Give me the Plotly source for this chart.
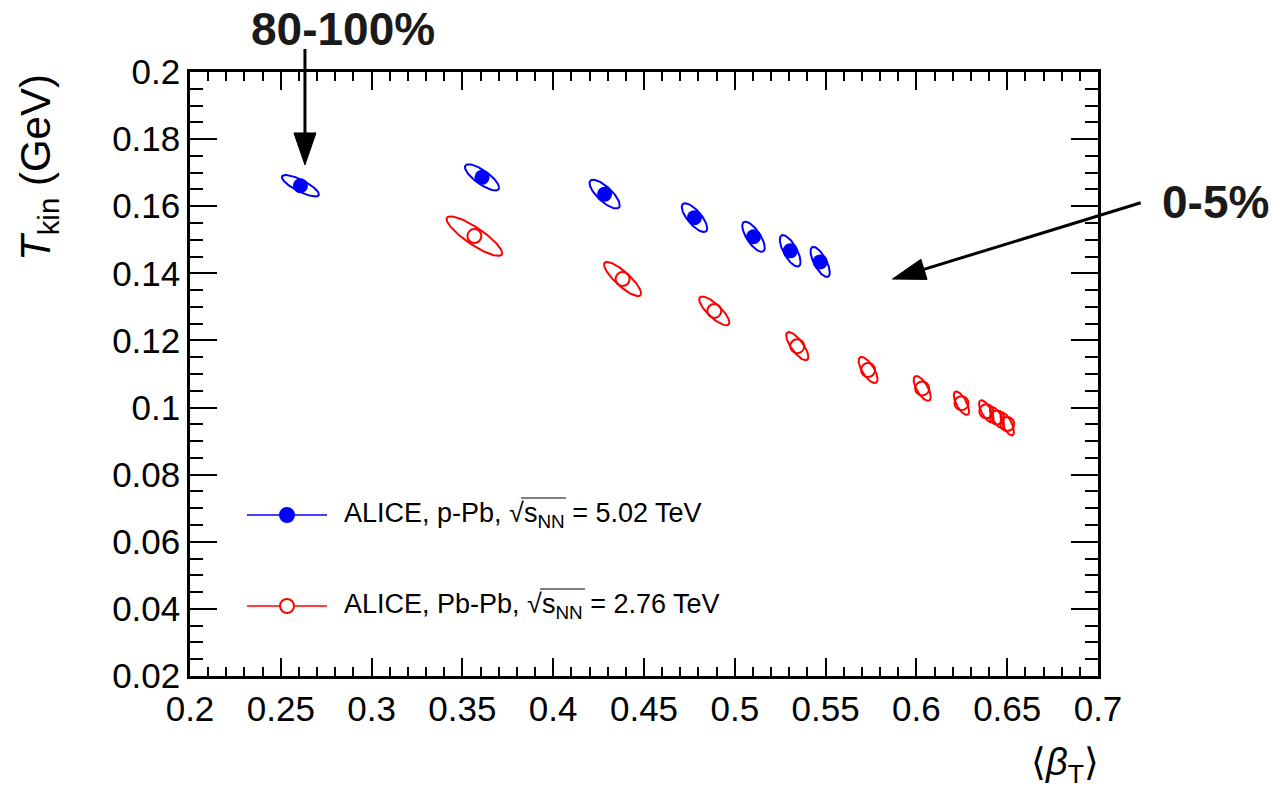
import numpy as np
import plotly.graph_objects as go

# ---------------- data ----------------
# ALICE p-Pb, sqrt(s_NN) = 5.02 TeV  (centrality 80-100% ... 0-5%)
ppb_beta = [0.2608, 0.3608, 0.4283, 0.4778, 0.5103, 0.5305, 0.5470]
ppb_tkin = [0.1661, 0.1686, 0.1636, 0.1566, 0.1509, 0.1467, 0.1434]
ppb_sig_beta = [0.0102, 0.0094, 0.0083, 0.0070, 0.0062, 0.0057, 0.0053]
ppb_sig_tkin = [0.0032, 0.0039, 0.0043, 0.0043, 0.0045, 0.0047, 0.0045]
ppb_rho = [-0.80, -0.78, -0.76, -0.74, -0.72, -0.70, -0.70]

# ALICE Pb-Pb, sqrt(s_NN) = 2.76 TeV
pbpb_beta = [0.3566, 0.4382, 0.4887, 0.5344, 0.5734, 0.6032, 0.6248, 0.6385, 0.6444, 0.6500]
pbpb_tkin = [0.1511, 0.1383, 0.1288, 0.1183, 0.1112, 0.1057, 0.1013, 0.0989, 0.0970, 0.0951]
pbpb_sig_beta = [0.0153, 0.0102, 0.0083, 0.0061, 0.0052, 0.0047, 0.0042, 0.0040, 0.0039, 0.0037]
pbpb_sig_tkin = [0.0059, 0.0051, 0.0043, 0.0042, 0.0039, 0.0037, 0.0035, 0.0033, 0.0032, 0.0034]
pbpb_rho = [-0.86, -0.84, -0.80, -0.76, -0.70, -0.68, -0.68, -0.68, -0.68, -0.68]

x_range = [0.2, 0.7]
y_range = [0.02, 0.2]
x_tickvals = [0.2, 0.25, 0.3, 0.35, 0.4, 0.45, 0.5, 0.55, 0.6, 0.65, 0.7]
x_ticktext = ["0.2", "0.25", "0.3", "0.35", "0.4", "0.45", "0.5", "0.55", "0.6", "0.65", "0.7"]
y_tickvals = [0.02, 0.04, 0.06, 0.08, 0.1, 0.12, 0.14, 0.16, 0.18, 0.2]
y_ticktext = ["0.02", "0.04", "0.06", "0.08", "0.1", "0.12", "0.14", "0.16", "0.18", "0.2"]

legend_ppb = "ALICE, p-Pb, \u221As<sub>NN</sub> = 5.02 TeV"
legend_pbpb = "ALICE, Pb-Pb, \u221As<sub>NN</sub> = 2.76 TeV"
label_peripheral = "80-100%"
label_central = "0-5%"

BLUE = "#0000ff"
RED = "#ff0000"
FONT = "Liberation Sans, Arial, Helvetica, sans-serif"

# ---------------- layout geometry ----------------
W, H = 1274, 797
L, R, T, B = 190, 1098, 72, 676


def px(xp):
    return (xp - L) / (R - L)


def py(yp):
    return (B - yp) / (B - T)


def dx2paper(v):
    return (v - x_range[0]) / (x_range[1] - x_range[0])


def dy2paper(v):
    return (v - y_range[0]) / (y_range[1] - y_range[0])


def ellipse_xy(cx, cy, sx, sy, rho, n=120):
    xs, ys = [], []
    t = np.linspace(0, 2 * np.pi, n)
    for a, b, c, d, r in zip(cx, cy, sx, sy, rho):
        xs += list(a + c * np.cos(t)) + [None]
        ys += list(b + d * (r * np.cos(t) + np.sqrt(1 - r * r) * np.sin(t))) + [None]
    return xs, ys


fig = go.Figure()

ex, ey = ellipse_xy(pbpb_beta, pbpb_tkin, pbpb_sig_beta, pbpb_sig_tkin, pbpb_rho)
fig.add_trace(go.Scatter(x=ex, y=ey, mode="lines", line=dict(color=RED, width=2),
                         hoverinfo="skip", showlegend=False))
ex, ey = ellipse_xy(ppb_beta, ppb_tkin, ppb_sig_beta, ppb_sig_tkin, ppb_rho)
fig.add_trace(go.Scatter(x=ex, y=ey, mode="lines", line=dict(color=BLUE, width=2),
                         hoverinfo="skip", showlegend=False))

fig.add_trace(go.Scatter(x=pbpb_beta, y=pbpb_tkin, mode="markers", name="Pb-Pb",
                         marker=dict(symbol="circle-open", size=14, color=RED,
                                     line=dict(width=2, color=RED)),
                         showlegend=False))
fig.add_trace(go.Scatter(x=ppb_beta, y=ppb_tkin, mode="markers", name="p-Pb",
                         marker=dict(symbol="circle", size=15, color=BLUE),
                         showlegend=False))

axis_common = dict(showline=True, linecolor="black", linewidth=2.5, mirror="allticks",
                   ticks="inside", tickwidth=2, tickcolor="black", showgrid=False,
                   zeroline=False, tickfont=dict(family=FONT, size=35, color="black"))

fig.update_xaxes(range=x_range, tickvals=x_tickvals, ticktext=x_ticktext, ticklen=18,
                 minor=dict(dtick=0.01, ticks="inside", ticklen=9, tickwidth=2,
                            tickcolor="black", showgrid=False),
                 **axis_common)
fig.update_yaxes(range=y_range, tickvals=y_tickvals, ticktext=y_ticktext, ticklen=27,
                 minor=dict(dtick=0.005, ticks="inside", ticklen=13, tickwidth=2,
                            tickcolor="black", showgrid=False),
                 **axis_common)

shapes = []
annotations = []

# axis titles
annotations.append(dict(xref="paper", yref="paper", x=px(38), y=py(168), xanchor="center",
                        yanchor="middle", textangle=-90, showarrow=False,
                        text="<i>T</i><sub>kin</sub> (GeV)",
                        font=dict(family=FONT, size=42, color="black")))
annotations.append(dict(xref="paper", yref="paper", x=px(1101), y=py(765), xanchor="right",
                        yanchor="middle", showarrow=False,
                        text="\u27E8<i>\u03B2</i><sub>T</sub>\u27E9",
                        font=dict(family=FONT, size=38, color="black")))

# legend
legend_rows = [(515, BLUE, legend_ppb, "fill", 521, 566), (606, RED, legend_pbpb, "open", 540, 585)]
for ypix, col, txt, sym, ox0, ox1 in legend_rows:
    shapes.append(dict(type="line", xref="paper", yref="paper", x0=px(247), x1=px(327),
                       y0=py(ypix), y1=py(ypix), line=dict(color=col, width=1.5)))
    shapes.append(dict(type="circle", xref="paper", yref="paper", xsizemode="pixel",
                       ysizemode="pixel", xanchor=px(287), yanchor=py(ypix),
                       x0=-7, x1=7, y0=-7, y1=7,
                       fillcolor=col if sym == "fill" else "white",
                       line=dict(color=col, width=2)))
    annotations.append(dict(xref="paper", yref="paper", x=px(342), y=py(ypix),
                            xanchor="left", yanchor="middle", showarrow=False, text=txt,
                            font=dict(family=FONT, size=27, color="black")))
    # overline of the square root
    shapes.append(dict(type="line", xref="paper", yref="paper", x0=px(ox0), x1=px(ox1),
                       y0=py(ypix - 17), y1=py(ypix - 17), line=dict(color="black", width=1.2)))

# arrows and centrality labels (paper-referenced so they are not clipped)
tip1 = (dx2paper(ppb_beta[0] + 0.0025), dy2paper(0.1723))
shapes.append(dict(type="line", xref="paper", yref="paper", xsizemode="pixel", ysizemode="pixel",
                   xanchor=tip1[0], yanchor=tip1[1], x0=0, x1=0, y0=20, y1=116,
                   line=dict(color="black", width=3)))
shapes.append(dict(type="path", xref="paper", yref="paper", xsizemode="pixel", ysizemode="pixel",
                   xanchor=tip1[0], yanchor=tip1[1], path="M0,0 L-11,32 L11,32 Z",
                   fillcolor="black", line=dict(color="black", width=1)))
annotations.append(dict(xref="paper", yref="paper", x=px(343), y=py(29), xanchor="center",
                        yanchor="middle", showarrow=False, text="<b>" + label_peripheral + "</b>",
                        font=dict(family=FONT, size=46, color="#1a1a1a")))

tip2 = (dx2paper(0.5868), dy2paper(0.1383))
ax2, ay2 = 248.3, 76.3  # tail offset from tip in pixels (y up)
ln = np.hypot(ax2, ay2)
ux, uy = ax2 / ln, ay2 / ln
hl, hw = 33, 10.5
shapes.append(dict(type="line", xref="paper", yref="paper", xsizemode="pixel", ysizemode="pixel",
                   xanchor=tip2[0], yanchor=tip2[1], x0=20 * ux, y0=20 * uy, x1=ax2, y1=ay2,
                   line=dict(color="black", width=3)))
bx, by = hl * ux, hl * uy
c1 = (bx - hw * uy, by + hw * ux)
c2 = (bx + hw * uy, by - hw * ux)
shapes.append(dict(type="path", xref="paper", yref="paper", xsizemode="pixel", ysizemode="pixel",
                   xanchor=tip2[0], yanchor=tip2[1],
                   path=f"M0,0 L{c1[0]:.2f},{c1[1]:.2f} L{c2[0]:.2f},{c2[1]:.2f} Z",
                   fillcolor="black", line=dict(color="black", width=1)))
annotations.append(dict(xref="paper", yref="paper", x=px(1160), y=py(202), xanchor="left",
                        yanchor="middle", showarrow=False, text="<b>" + label_central + "</b>",
                        font=dict(family=FONT, size=46, color="#1a1a1a")))

fig.update_layout(width=W, height=H, margin=dict(l=L, r=W - R, t=T, b=H - B, pad=0),
                  plot_bgcolor="white", paper_bgcolor="white", showlegend=False,
                  shapes=shapes, annotations=annotations,
                  font=dict(family=FONT, color="black"))

fig.write_html("out.html")
